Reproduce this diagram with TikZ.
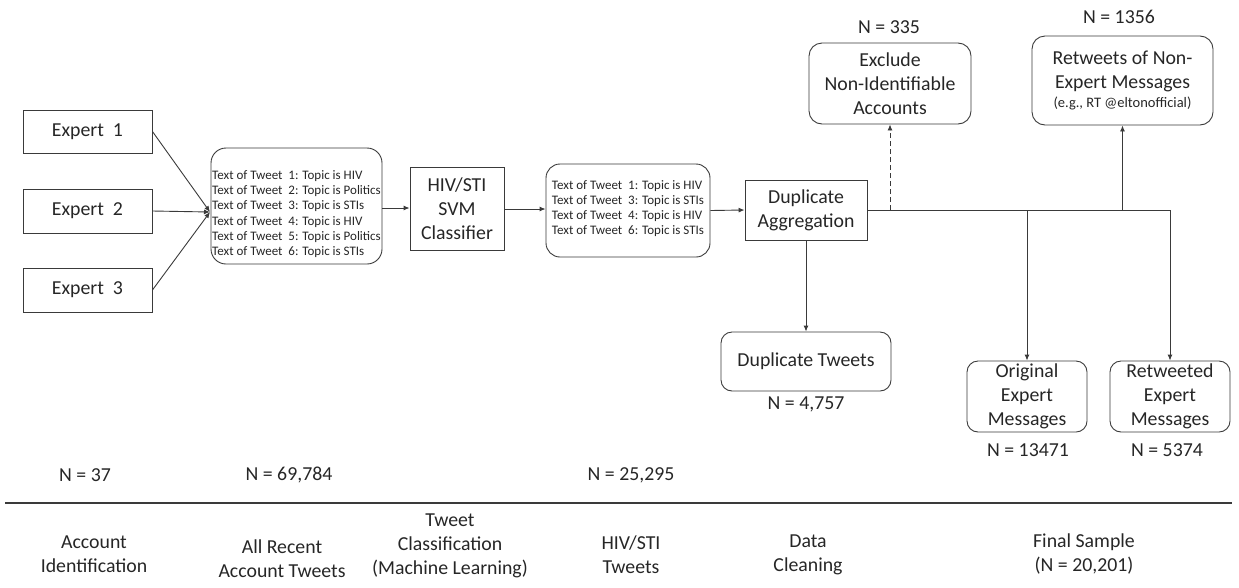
\documentclass[tikz,border=0pt]{standalone}
\usepackage{fontspec}
\setmainfont{Carlito}
\usetikzlibrary{arrows.meta}
\definecolor{ink}{HTML}{262626}
\definecolor{edge}{HTML}{3A3A3A}
\begin{document}
\begin{tikzpicture}[x=1pt,y=-1pt,
  big/.style={font=\fontsize{19.8}{24}\selectfont},
  small/.style={font=\fontsize{13}{15.2}\selectfont},
  sqbox/.style={draw=edge, line width=0.9pt, inner sep=0pt, align=center, text=ink, big},
  rbox/.style={sqbox, rounded corners=12pt},
  lbl/.style={inner sep=0pt, align=center, text=ink, big},
  conn/.style={draw=edge, line width=0.9pt},
  arr/.style={conn, -{Latex[length=6pt,width=5pt]}}
]
\useasboundingbox (0,0) rectangle (1239,587);

% experts
\node[sqbox, minimum width=129pt, minimum height=43pt] (e1) at (87.5,131.5) {Expert\ \ 1};
\node[sqbox, minimum width=129pt, minimum height=44pt] (e2) at (87.5,211) {Expert\ \ 2};
\node[sqbox, minimum width=129pt, minimum height=44pt] (e3) at (87.5,290) {Expert\ \ 3};

% all tweets
\node[rbox, rounded corners=15pt, minimum width=171pt, minimum height=116pt,
  label={[small, text=ink, align=left, inner sep=0pt, yshift=-8pt]center:{Text of Tweet\ \ 1: Topic is HIV\\Text of Tweet\ \ 2: Topic is Politics\\Text of Tweet\ \ 3: Topic is STIs\\Text of Tweet\ \ 4: Topic is HIV\\Text of Tweet\ \ 5: Topic is Politics\\Text of Tweet\ \ 6: Topic is STIs}}] (tw1) at (296.5,206) {};
\coordinate (conv) at (210,212);

% classifier
\node[sqbox, minimum width=94pt, minimum height=83pt] (svm) at (457,208.5) {HIV/STI\\SVM\\Classifier};

% HIV/STI tweets
\node[rbox, rounded corners=14pt, minimum width=164pt, minimum height=93pt,
  label={[small, text=ink, align=left, inner sep=0pt, yshift=2pt]center:{Text of Tweet\ \ 1: Topic is HIV\\Text of Tweet\ \ 3: Topic is STIs\\Text of Tweet\ \ 4: Topic is HIV\\Text of Tweet\ \ 6: Topic is STIs}}] (tw2) at (628,210.5) {};

% duplicate aggregation
\node[sqbox, minimum width=122pt, minimum height=60pt] (dup) at (806,210) {Duplicate\\Aggregation};

% top boxes
\node[rbox, rounded corners=13pt, minimum width=162pt, minimum height=81pt] (excl) at (890,83.5) {Exclude\\Non-Identifiable\\Accounts};
\node[rbox, rounded corners=13pt, minimum width=181pt, minimum height=89pt] (rtn) at (1122.5,80.5) {Retweets of Non-\\Expert Messages\\[-5pt]{\fontsize{14.5}{16}\selectfont (e.g., RT @eltonofficial)}};
\node[lbl] (n335) at (889,27) {N = 335};
\node[lbl] (n1356) at (1119,17) {N = 1356};

% bottom boxes
\node[rbox, rounded corners=11pt, minimum width=170pt, minimum height=59pt] (duptw) at (806,361.5) {Duplicate Tweets};
\node[lbl] (n4757) at (806,404) {N = 4,757};
\node[rbox, rounded corners=11pt, minimum width=120pt, minimum height=71pt] (orig) at (1027,396.5) {Original\\Expert\\Messages};
\node[rbox, rounded corners=11pt, minimum width=120pt, minimum height=71pt] (rte) at (1170,396.5) {Retweeted\\Expert\\Messages};
\node[lbl] (n13471) at (1028,450) {N = 13471};
\node[lbl] (n5374) at (1167,450) {N = 5374};

% counts row
\node[lbl] (n37) at (85,475) {N = 37};
\node[lbl] (n69784) at (289,475) {N = 69,784};
\node[lbl] (n25295) at (631,475) {N = 25,295};

% rule
\coordinate (ruleL) at (5,503);
\coordinate (ruleR) at (1232,503);
\draw[conn, line width=1.1pt] (ruleL) -- (ruleR);

% stage labels
\node[lbl] (s1) at (94,554) {Account\\Identification};
\node[lbl] (s2) at (282,558.5) {All Recent\\Account Tweets};
\node[lbl] (s3) at (450,546) {Tweet\\Classification\\(Machine Learning)};
\node[lbl] (s4) at (631,554.5) {HIV/STI\\Tweets};
\node[lbl] (s5) at (808,554.5) {Data\\Cleaning};
\node[lbl] (s6) at (1084,553.5) {Final Sample\\(N = 20,201)};

% connectors
\draw[arr] (e1.east) -- (conv);
\draw[arr] (e2.east) -- (conv);
\draw[arr] (e3.east) -- (conv);
\draw[arr] (tw1.east |- 0,208) -- (svm.west |- 0,208);
\draw[arr] (svm.east |- 0,209) -- (tw2.west |- 0,209);
\draw[arr] (tw2.east) -- (dup.west);
\draw[arr] (dup.south) -- (duptw.north);

\coordinate (jx) at (excl.south |- dup.east);
\coordinate (jr) at (rtn.south |- dup.east);
\coordinate (jo) at (orig.north |- dup.east);
\coordinate (je) at (rte.north |- dup.east);
\draw[conn] (dup.east) -- (je);
\draw[arr, dashed, dash pattern=on 5pt off 3pt] (jx) -- (excl.south);
\draw[arr] (jr) -- (rtn.south);
\draw[arr] (jo) -- (orig.north);
\draw[arr] (je) -- (rte.north);
\end{tikzpicture}
\end{document}
